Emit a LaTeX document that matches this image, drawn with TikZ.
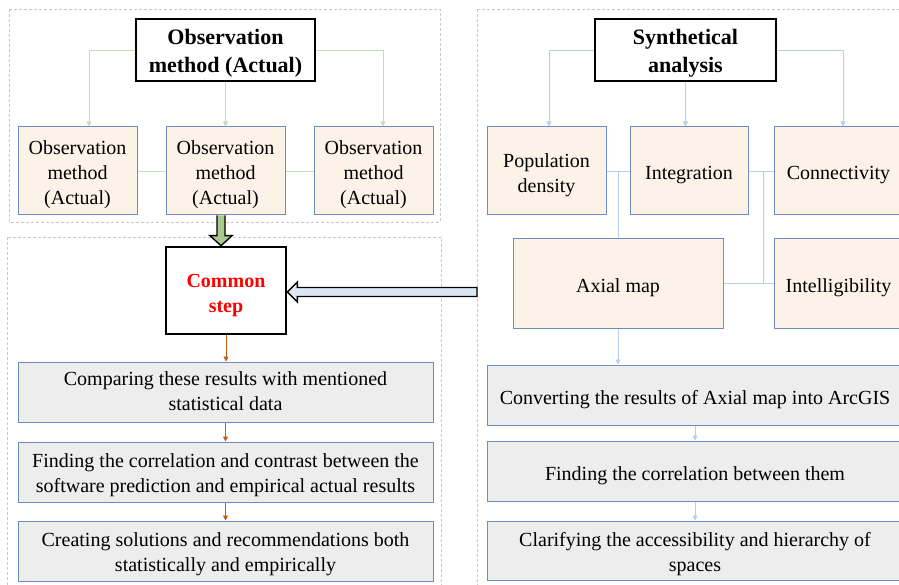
\documentclass[tikz,border=0pt]{standalone}
\usepackage{fontspec}
\setmainfont{Liberation Serif}
\usetikzlibrary{arrows.meta,calc}
\definecolor{peach}{HTML}{FDF2E7}
\definecolor{boxblue}{HTML}{6C8EBF}
\definecolor{grayfill}{HTML}{EDEDED}
\definecolor{gline}{HTML}{C5DCB4}
\definecolor{bline}{HTML}{B8CFEC}
\definecolor{oline}{HTML}{C55A11}
\definecolor{garrow}{HTML}{A9C98D}
\definecolor{barrow}{HTML}{DCE6F4}
\definecolor{region}{HTML}{C8C8C8}
\newcommand{\lowtext}[2][3pt]{\raisebox{0pt}[\dimexpr\height+#1\relax][\dimexpr\depth-#1\relax]{\begin{tabular}{@{}c@{}}#2\end{tabular}}}
\tikzset{
  region/.style={draw=region, dashed, dash pattern=on 3pt off 2pt, line width=0.7pt},
  titlebox/.style={draw=black, line width=2.6pt, fill=white, align=center, inner sep=0pt,
    font=\fontsize{22}{28}\selectfont\bfseries},
  peachbox/.style={draw=boxblue, line width=1pt, fill=peach, align=center, inner sep=0pt,
    font=\fontsize{20}{25}\selectfont},
  graybox/.style={draw=boxblue, line width=1pt, fill=grayfill, align=center, inner sep=0pt,
    font=\fontsize{20}{25}\selectfont},
  gconn/.style={draw=gline, line width=0.9pt},
  bconn/.style={draw=bline, line width=0.9pt},
  tip/.style={-{Triangle[length=5pt,width=5pt]}},
}
\begin{document}
\begin{tikzpicture}[x=1pt,y=-1pt]
\useasboundingbox (0,0) rectangle (899,585);
\clip (0,0) rectangle (899,585);
\fill[white] (0,0) rectangle (899,585);
% regions
\draw[region] (9,9) rectangle (440,222);
\draw[region] (7,237) rectangle (441,600);
\draw[region] (477,9) rectangle (915,600);

% left top part
\node[titlebox, minimum width=179pt, minimum height=62pt] (t1) at (225.5,50) {\lowtext{Observation\\method (Actual)}};
\node[peachbox, minimum width=119pt, minimum height=88pt] (o1) at (77.5,171) {\lowtext[4pt]{Observation\\method\\(Actual)}};
\node[peachbox, minimum width=119pt, minimum height=88pt] (o2) at (225.5,171) {\lowtext[4pt]{Observation\\method\\(Actual)}};
\node[peachbox, minimum width=119pt, minimum height=88pt] (o3) at (373.5,171) {\lowtext[4pt]{Observation\\method\\(Actual)}};
\draw[gconn, tip] (t1.west) -| ([xshift=11.5pt]o1.north);
\draw[gconn, tip] (t1.south) -- (o2.north);
\draw[gconn, tip] (t1.east) -| ([xshift=9.5pt]o3.north);
\draw[gconn] (o1.east) -- (o2.west);
\draw[gconn] (o2.east) -- (o3.west);

% common step
\node[titlebox, minimum width=120pt, minimum height=87pt, text=red, font=\fontsize{20}{25}\selectfont\bfseries] (cs) at (226,290.5) {\lowtext[5pt]{Common\\step}};

% left gray boxes
\node[graybox, minimum width=415pt, minimum height=60pt] (gA) at (225.5,392) {\lowtext[1pt]{Comparing these results with mentioned\\statistical data}};
\node[graybox, minimum width=415pt, minimum height=60pt] (gB) at (225.5,472) {\lowtext{Finding the correlation and contrast between the\\software prediction and empirical actual results}};
\node[graybox, minimum width=415pt, minimum height=60pt] (gC) at (225.5,551) {\lowtext{Creating solutions and recommendations both\\statistically and empirically}};
\draw[draw=oline, line width=0.8pt, tip] (cs.south) -- (cs.south |- gA.north);
\draw[draw=oline, line width=0.8pt, tip] (gA.south) -- (gB.north);
\draw[draw=oline, line width=0.8pt, tip] (gB.south) -- (gC.north);

% right part
\node[titlebox, minimum width=181pt, minimum height=62pt] (t2) at (685.5,50) {\lowtext{Synthetical\\analysis}};
\node[peachbox, minimum width=119pt, minimum height=88pt] (pd) at (546.5,171) {\lowtext[4pt]{Population\\density}};
\node[peachbox, minimum width=118pt, minimum height=88pt] (ig) at (689,171) {\lowtext[4pt]{Integration}};
\node[peachbox, minimum width=129pt, minimum height=88pt] (cn) at (838.5,171) {\lowtext[4pt]{Connectivity}};
\node[peachbox, minimum width=210pt, minimum height=89pt] (ax) at (618,283.5) {\lowtext[4pt]{Axial map}};
\node[peachbox, minimum width=129pt, minimum height=89pt] (it) at (838.5,283.5) {\lowtext[4pt]{Intelligibility}};
\draw[bconn, tip] (t2.west) -| ([xshift=2.5pt]pd.north);
\draw[bconn, tip] (t2.south) -- (t2.south |- ig.north);
\draw[bconn, tip] (t2.east) -| ([xshift=4.5pt]cn.north);
\draw[bconn] (pd.east) -- (ig.west);
\draw[bconn] (ax.north |- pd.east) -- (ax.north);
\draw[bconn] (ig.east) -- (cn.west);
\coordinate (j2) at (763,171);
\draw[bconn] (j2) -- (j2 |- ax.east);
\draw[bconn] (ax.east) -- (it.west);

\node[graybox, minimum width=416pt, minimum height=60pt] (gD) at (695,395) {\lowtext[4pt]{Converting the results of Axial map into ArcGIS}};
\node[graybox, minimum width=416pt, minimum height=60pt] (gE) at (695,471) {\lowtext[4pt]{Finding the correlation between them}};
\node[graybox, minimum width=416pt, minimum height=59pt] (gF) at (695,550.5) {\lowtext{Clarifying the accessibility and hierarchy of\\spaces}};
\draw[bconn, tip] (ax.south) -- (ax.south |- gD.north);
\draw[bconn, tip] (gD.south) -- (gE.north);
\draw[bconn, tip] (gE.south) -- (gF.north);

% big green arrow o2 -> cs
\coordinate (ga) at (221,0);
\draw[fill=garrow, line width=1.4pt, line join=miter]
  ($(ga |- o2.south)+(-4,0)$) -- ($(ga |- cs.north)+(-4,-10)$) -- ($(ga |- cs.north)+(-11,-10)$)
  -- (ga |- cs.north) -- ($(ga |- cs.north)+(11,-10)$) -- ($(ga |- cs.north)+(4,-10)$)
  -- ($(ga |- o2.south)+(4,0)$);
% big blue arrow from right region -> cs
\coordinate (bstart) at (477,292);
\draw[fill=barrow, line width=1.4pt, line join=miter]
  ($(bstart)+(0,-4.5)$) -- ($(cs.east |- bstart)+(10,-4.5)$) -- ($(cs.east |- bstart)+(10,-10)$)
  -- (cs.east |- bstart) -- ($(cs.east |- bstart)+(10,10)$) -- ($(cs.east |- bstart)+(10,4.5)$)
  -- ($(bstart)+(0,4.5)$) -- cycle;
\end{tikzpicture}
\end{document}
